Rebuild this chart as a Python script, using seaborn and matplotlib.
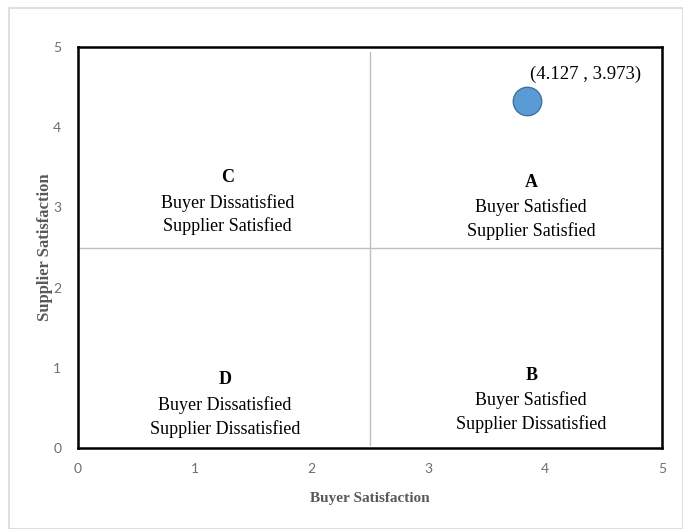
"""
Buyer / supplier satisfaction quadrant chart.
"""

import pandas as pd
import matplotlib.pyplot as plt
from matplotlib.patches import Rectangle
import seaborn as sns

# data
buyer_score = [3.84]
supplier_score = [4.33]
point_label = "(4.127 , 3.973)"
x_ticks = [0, 1, 2, 3, 4, 5]
y_ticks = [0, 1, 2, 3, 4, 5]
quadrant_letters = ["C", "A", "D", "B"]
quadrant_text = [
    "Buyer Dissatisfied\nSupplier Satisfied",
    "Buyer Satisfied\nSupplier Satisfied",
    "Buyer Dissatisfied\nSupplier Dissatisfied",
    "Buyer Satisfied\nSupplier Dissatisfied",
]
quadrant_x = [1.28, 3.88, 1.26, 3.88]
quadrant_y = [3.37, 3.31, 0.85, 0.91]
midpoint = 2.5

sns.set_theme(style="white")
plt.rcParams["font.family"] = ["Liberation Serif", "DejaVu Serif"]

GREY = "#595959"
SERIF = ["Liberation Serif", "DejaVu Serif"]
SANS = ["Lato", "DejaVu Sans"]

fig = plt.figure(figsize=(6.83, 5.29), dpi=100)
ax = fig.add_axes([78 / 683, 1 - 448 / 529, 584 / 683, 401 / 529])

# light frame round the whole chart area
fig.patches.append(Rectangle((9 / 683, 0), 1 - 9 / 683, 1 - 8 / 529,
                             transform=fig.transFigure, fill=False,
                             edgecolor="#d9d9d9", linewidth=1.2))

df = pd.DataFrame({"buyer": buyer_score, "supplier": supplier_score})

# quadrant dividers
ax.plot([midpoint, midpoint], [0.04, 4.94], color="#bfbfbf", linewidth=1, zorder=1)
ax.plot([0, 5], [midpoint, midpoint], color="#bfbfbf", linewidth=1, zorder=1)

sns.scatterplot(data=df, x="buyer", y="supplier", s=420, color="#5b9bd5",
                edgecolor="#41719c", linewidth=1, ax=ax, zorder=3)

for letter, txt, qx, qy in zip(quadrant_letters, quadrant_text, quadrant_x, quadrant_y):
    ax.text(qx, qy, letter, ha="center", va="center", fontsize=13,
            fontweight="bold", family=SERIF, color="black")
    ax.text(qx, qy - 0.46, txt, ha="center", va="center", fontsize=13,
            family=SERIF, color="black", linespacing=1.43)

ax.text(buyer_score[0] + 0.03, supplier_score[0] + 0.33, point_label,
        ha="left", va="center", fontsize=13.5, family=SERIF, color="black")

ax.set_xlim(0, 5)
ax.set_ylim(0, 5)
ax.set_xticks(x_ticks)
ax.set_yticks(y_ticks)
ax.tick_params(length=0, labelsize=10, labelcolor="#6f6f6f")
ax.tick_params(axis="x", pad=11)
ax.tick_params(axis="y", pad=12)
for lbl in ax.get_xticklabels() + ax.get_yticklabels():
    lbl.set_family(SANS)

ax.set_xlabel("Buyer Satisfaction", fontsize=11, fontweight="bold",
              color=GREY, family=SERIF, labelpad=12)
ax.set_ylabel("Supplier Satisfaction", fontsize=12, fontweight="bold",
              color=GREY, family=SERIF, labelpad=0)

for spine in ax.spines.values():
    spine.set_color("black")
    spine.set_linewidth(1.8)
    spine.set_visible(True)

fig.savefig("out.png", dpi=100)
plt.close(fig)
